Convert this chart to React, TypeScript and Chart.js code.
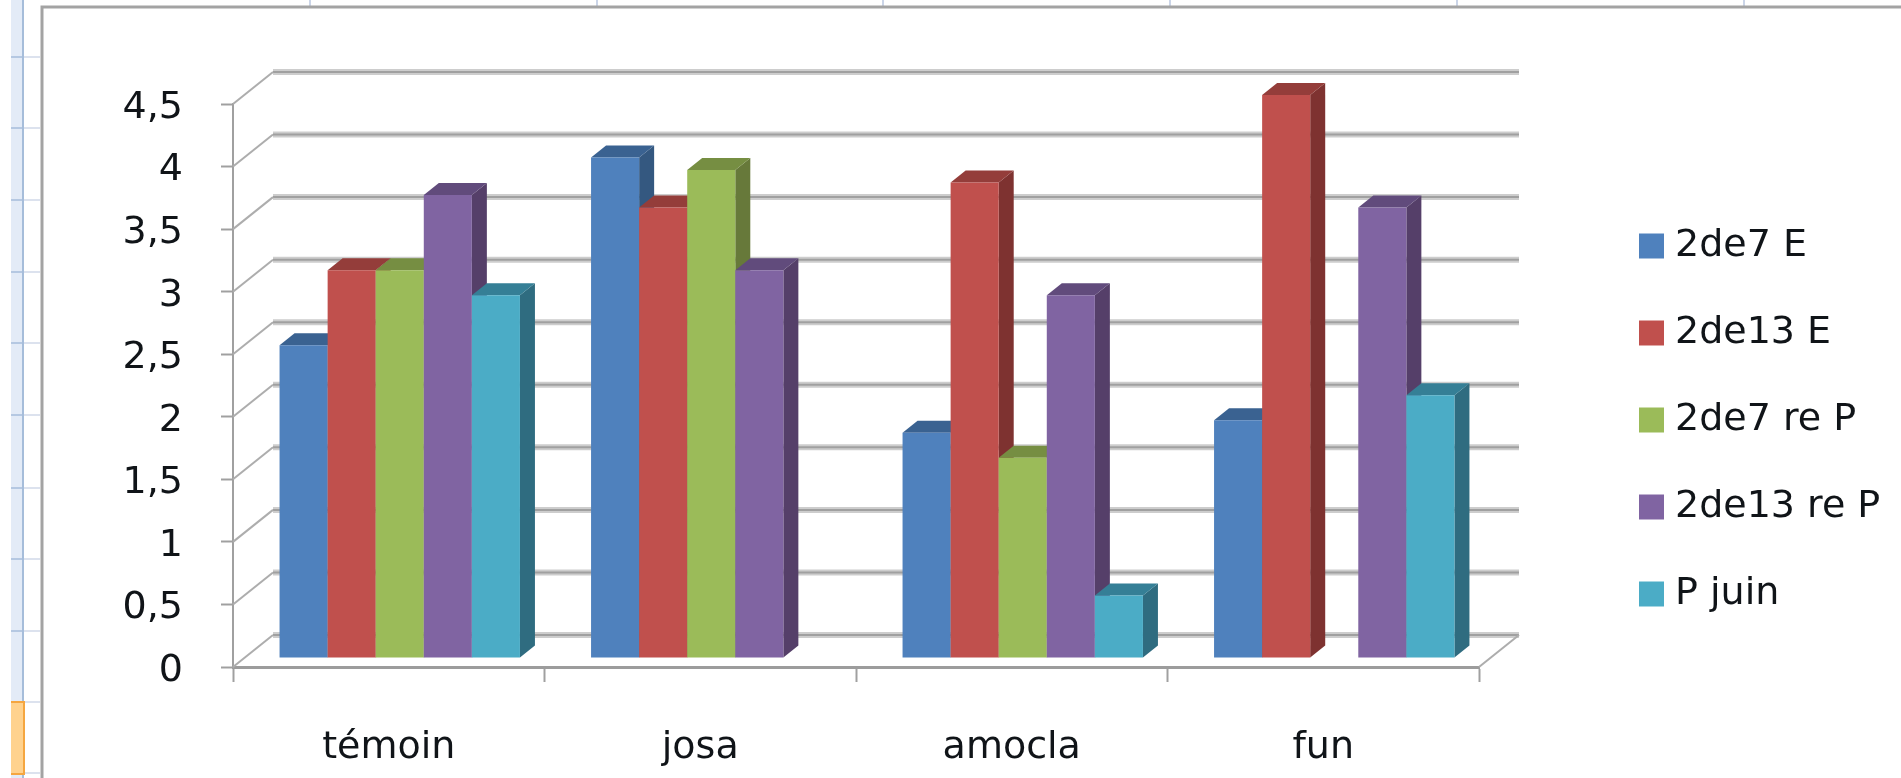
import React, { useEffect, useRef } from "react";
import { Chart, registerables } from "chart.js";

Chart.register(...registerables);

const categories = ["témoin", "josa", "amocla", "fun"];
const seriesNames = ["2de7 E", "2de13 E", "2de7 re P", "2de13 re P", "P juin"];
const e7 = [2.5, 4, 1.8, 1.9];
const e13 = [3.1, 3.6, 3.8, 4.5];
const re7 = [3.1, 3.9, 1.6, null];
const re13 = [3.7, 3.1, 2.9, 3.6];
const juin = [2.9, null, 0.5, 2.1];
const seriesValues = [e7, e13, re7, re13, juin];

const frontColors = ["#4F81BD", "#C0504D", "#9BBB59", "#8064A2", "#4BACC6"];
const topColors = ["#3A6291", "#943D3A", "#768E42", "#614B7C", "#357F96"];
const sideColors = ["#345880", "#7E3230", "#67793A", "#553F69", "#2F6C80"];

const FONT = "'DejaVu Sans'";
const FONT_SIZE = 38;
const TEXT = "#101418";

// Perspective of the 3D box: the back wall and the bars sit behind the front plane.
const WALL_DX = 40;
const WALL_DY = -32;
const BAR_DX = 11;
const BAR_DY = -9;
const BAR_DEPTH_X = 15;
const BAR_DEPTH_Y = -12;

function line(ctx: CanvasRenderingContext2D, x1: number, y1: number, x2: number, y2: number, color: string, width: number) {
  ctx.strokeStyle = color;
  ctx.lineWidth = width;
  ctx.beginPath();
  ctx.moveTo(x1, y1);
  ctx.lineTo(x2, y2);
  ctx.stroke();
}

function poly(ctx: CanvasRenderingContext2D, pts: number[][], color: string) {
  ctx.fillStyle = color;
  ctx.beginPath();
  pts.forEach(([x, y], i) => (i ? ctx.lineTo(x, y) : ctx.moveTo(x, y)));
  ctx.closePath();
  ctx.fill();
}

// Spreadsheet surroundings and the chart frame.
const sheetBackdrop = {
  id: "sheetBackdrop",
  beforeDraw(chart: any) {
    const { ctx, width, height } = chart;
    ctx.save();
    ctx.fillStyle = "#ffffff";
    ctx.fillRect(0, 0, width, height);
    ctx.fillStyle = "#E3EBF7";
    ctx.fillRect(11, 0, 13, height);
    const rows = [57, 128, 200, 272, 343, 415, 488, 559, 631, 702, 773];
    rows.forEach((y) => {
      line(ctx, 11, y, 24, y, "#B5C8E2", 2);
      line(ctx, 24, y, 40, y, "#DCE2EE", 2);
    });
    line(ctx, 23, 0, 23, height, "#A6BDDA", 2);
    ctx.fillStyle = "#FFD28E";
    ctx.fillRect(11, 702, 13, 72);
    ctx.strokeStyle = "#F5A640";
    ctx.lineWidth = 2;
    ctx.beginPath();
    ctx.moveTo(11, 702);
    ctx.lineTo(24, 702);
    ctx.lineTo(24, 774);
    ctx.lineTo(11, 774);
    ctx.stroke();
    [310, 597, 883, 1170, 1457, 1744].forEach((x) => line(ctx, x, 0, x, 6, "#CBD5E8", 2));
    ctx.strokeStyle = "#A3A3A3";
    ctx.lineWidth = 3;
    ctx.beginPath();
    ctx.moveTo(42, height);
    ctx.lineTo(42, 7);
    ctx.lineTo(width, 7);
    ctx.stroke();
    ctx.restore();
  },
};

// Draws the wall, floor and bars; the bars are painted left to right so that
// each front face covers the side of its neighbour.
const box3d = {
  id: "box3d",
  afterLayout(chart: any) {
    const legend = chart.legend;
    const pad = legend.options.labels.padding;
    legend.left = 1647 - pad;
    legend.right = chart.width;
    legend.top = 246 - FONT_SIZE / 2 - pad;
    legend.bottom = chart.height;
  },
  beforeDatasetsDraw(chart: any) {
    const { ctx, chartArea, scales } = chart;
    const { left, right, bottom } = chartArea;
    ctx.save();
    scales.y.ticks.forEach((t: any) => {
      const y = scales.y.getPixelForValue(t.value);
      line(ctx, left + WALL_DX, y + WALL_DY, right + WALL_DX, y + WALL_DY, "#CDCDCD", 6);
      line(ctx, left + WALL_DX, y + WALL_DY, right + WALL_DX, y + WALL_DY, "#A0A0A0", 2);
      line(ctx, left, y, left + WALL_DX, y + WALL_DY, "#ADADAD", 2);
    });
    line(ctx, right, bottom, right + WALL_DX, bottom + WALL_DY, "#ADADAD", 2);

    const metas = seriesValues.map((_, d) => chart.getDatasetMeta(d));
    categories.forEach((_, c) => {
      metas.forEach((meta: any, d: number) => {
        const el = meta.data[c];
        if (seriesValues[d][c] == null) return;
        const half = el.width / 2;
        const x0 = el.x - half + BAR_DX;
        const x1 = el.x + half + BAR_DX;
        const yTop = el.y + BAR_DY;
        const yBase = el.base + BAR_DY;
        poly(ctx, [[x1, yTop], [x1 + BAR_DEPTH_X, yTop + BAR_DEPTH_Y], [x1 + BAR_DEPTH_X, yBase + BAR_DEPTH_Y], [x1, yBase]], sideColors[d]);
        poly(ctx, [[x0, yTop], [x0 + BAR_DEPTH_X, yTop + BAR_DEPTH_Y], [x1 + BAR_DEPTH_X, yTop + BAR_DEPTH_Y], [x1, yTop]], topColors[d]);
        ctx.save();
        ctx.translate(BAR_DX, BAR_DY);
        el.draw(ctx, chartArea);
        ctx.restore();
      });
    });
    ctx.restore();
    return false;
  },
};

export default function App() {
  const ref = useRef<HTMLCanvasElement>(null);

  useEffect(() => {
    document.body.style.margin = "0";
    const chart = new Chart(ref.current as HTMLCanvasElement, {
      type: "bar",
      plugins: [sheetBackdrop, box3d],
      data: {
        labels: categories,
        datasets: seriesNames.map((label, d) => ({
          label,
          data: seriesValues[d],
          backgroundColor: frontColors[d],
          borderWidth: 0,
          categoryPercentage: 240 / 311,
          barPercentage: 1,
        })),
      },
      options: {
        animation: false,
        responsive: false,
        devicePixelRatio: 1,
        layout: { padding: { left: 0, top: 104, right: 422, bottom: 0 } },
        scales: {
          x: {
            afterFit(scale: any) {
              scale.height = 111;
            },
            grid: { drawOnChartArea: false, tickLength: 15, tickColor: "#A0A0A0", tickWidth: 2 },
            border: { color: "#9C9C9C", width: 3 },
            ticks: { font: { family: FONT, size: FONT_SIZE }, color: TEXT, padding: 43, maxRotation: 0 },
          },
          y: {
            min: 0,
            max: 4.5,
            afterFit(scale: any) {
              scale.width = 233;
            },
            grid: { drawOnChartArea: false, tickLength: 12, tickColor: "#A0A0A0", tickWidth: 2 },
            border: { color: "#A0A0A0", width: 2 },
            ticks: {
              stepSize: 0.5,
              font: { family: FONT, size: FONT_SIZE },
              color: TEXT,
              padding: 38,
              labelOffset: 4,
              callback: (v: any) => String(v).replace(".", ","),
            },
          },
        },
        plugins: {
          tooltip: { enabled: false },
          legend: {
            position: "chartArea",
            align: "start",
            labels: {
              font: { family: FONT, size: FONT_SIZE },
              color: TEXT,
              boxWidth: 9,
              boxHeight: 9,
              padding: 49,
              // The thick stroke brings each swatch up to its full 25px square.
              generateLabels: (c: any) =>
                Chart.defaults.plugins.legend.labels.generateLabels(c).map((item: any) => ({
                  ...item,
                  strokeStyle: item.fillStyle,
                  lineWidth: 16,
                })),
            },
          },
        },
      } as any,
    });
    return () => chart.destroy();
  }, []);

  return <canvas ref={ref} width={1901} height={778} style={{ display: "block", position: "fixed", left: 0, top: 0 }} />;
}
